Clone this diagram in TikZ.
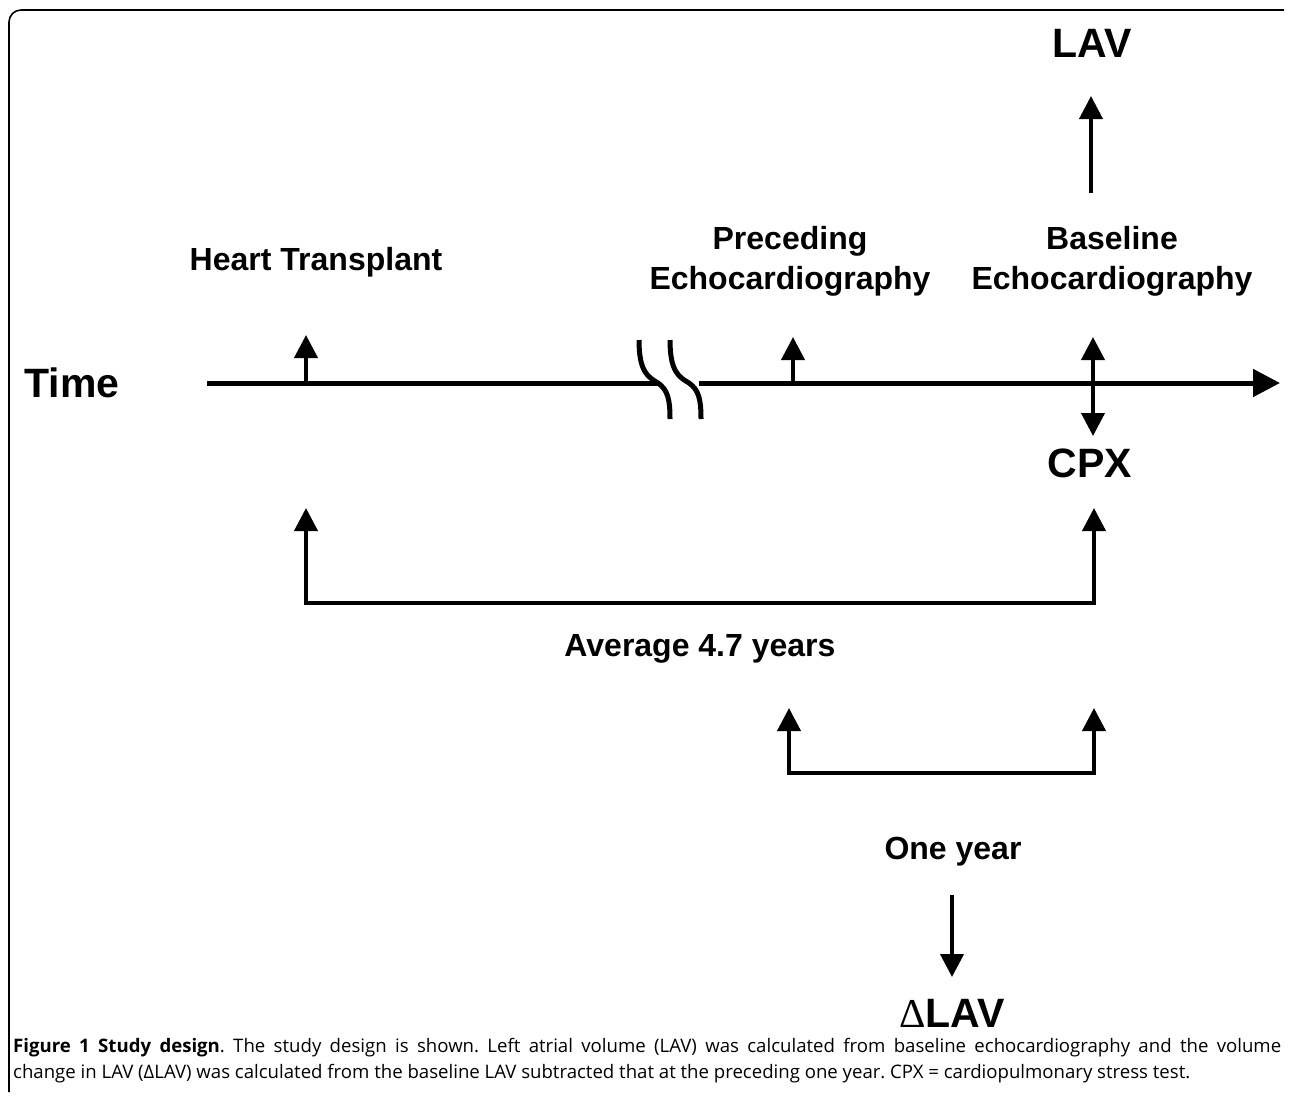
\documentclass[tikz,border=0pt]{standalone}
\usepackage{fontspec}
\setmainfont{Liberation Sans}
\newfontfamily\capfont{Open Sans}
\newfontfamily\symfont{Liberation Serif}
\usetikzlibrary{arrows.meta}
\tikzset{
  lbl/.style={font=\fontsize{32}{38}\selectfont\bfseries, inner sep=0pt, align=center},
  big/.style={font=\fontsize{41}{46}\selectfont\bfseries, inner sep=0pt},
  arr/.style={line width=4pt, -{Triangle[length=23pt,width=23pt]}},
  darr/.style={line width=4pt, {Triangle[length=23pt,width=23pt]}-{Triangle[length=23pt,width=23pt]}},
  axis/.style={line width=5pt},
  brk/.style={line width=5pt},
  frame/.style={line width=1.6pt}
}
\begin{document}
\begin{tikzpicture}[x=1pt,y=-1pt]
\useasboundingbox (0,0) rectangle (1290,1095);
% frame
\draw[frame, rounded corners=12pt] (9,1092) -- (9,10) -- (1284,10);
% labels
\node[big] (time) at (72,383) {Time};
\node[lbl] (ht) at (316,262) {Heart Transplant};
\node[lbl] (pe) at (790,261) {Preceding\\[2pt]Echocardiography};
\node[lbl] (be) at (1112,261) {Baseline\\[2pt]Echocardiography};
\node[big] (lav) at (1092,43) {LAV};
\node[big] (cpx) at (1090,463) {CPX};
\node[lbl] (avg) at (700,649) {Average 4.7 years};
\node[lbl] (one) at (953,852) {One year};
\node[big] (dlav) at (952,1013) {{\symfont\mdseries\fontsize{41}{46}\selectfont Δ}LAV};
% axis coordinates
\coordinate (a0) at (207,383);
\coordinate (b1) at (660,383);
\coordinate (b2) at (699,383);
\coordinate (aend) at (1280,383);
\draw[axis] (a0) -- (b1);
\draw[axis, -{Triangle[length=27pt,width=27pt]}] (b2) -- (aend);
% break marks
\draw[brk] (639,340) .. controls (639,372) and (648,377) .. (658,383) .. controls (668,390) and (670,400) .. (670,419);
\draw[brk] (670,340) .. controls (670,372) and (679,377) .. (689,383) .. controls (699,390) and (701,400) .. (701,419);
% event arrows
\coordinate (htb) at (306,385);
\coordinate (htt) at (306,335);
\draw[arr] (htb) -- (htt);
\coordinate (peb) at (793,385);
\coordinate (pet) at (793,337);
\draw[arr] (peb) -- (pet);
\coordinate (bet) at (1093,337);
\coordinate (beb) at (1093,436);
\draw[darr] (beb) -- (bet);
% LAV arrow
\coordinate (lavb) at (1091,193);
\coordinate (lavt) at (1091,96);
\draw[arr] (lavb) -- (lavt);
% average bracket
\coordinate (p1) at (306,508);
\coordinate (p2) at (1094,508);
\draw[darr] (p1) -- (306,603) -- (1094,603) -- (p2);
% one year bracket
\coordinate (q1) at (789,708);
\coordinate (q2) at (1094,708);
\draw[darr] (q1) -- (789,773) -- (1094,773) -- (q2);
% delta arrow
\coordinate (dt) at (952,895);
\coordinate (db) at (952,977);
\draw[arr] (dt) -- (db);
% caption
\node[anchor=north west, text width=1268pt, align=justify, inner sep=0pt,
      font=\capfont\fontsize{18.6}{26}\selectfont\frenchspacing] (cap) at (13,1038)
 {\textbf{Figure 1 Study design}. The study design is shown. Left atrial volume (LAV) was calculated from baseline echocardiography and the volume\linebreak change in LAV (ΔLAV) was calculated from the baseline LAV subtracted that at the preceding one year. CPX = cardiopulmonary stress test.};
\end{tikzpicture}
\end{document}
